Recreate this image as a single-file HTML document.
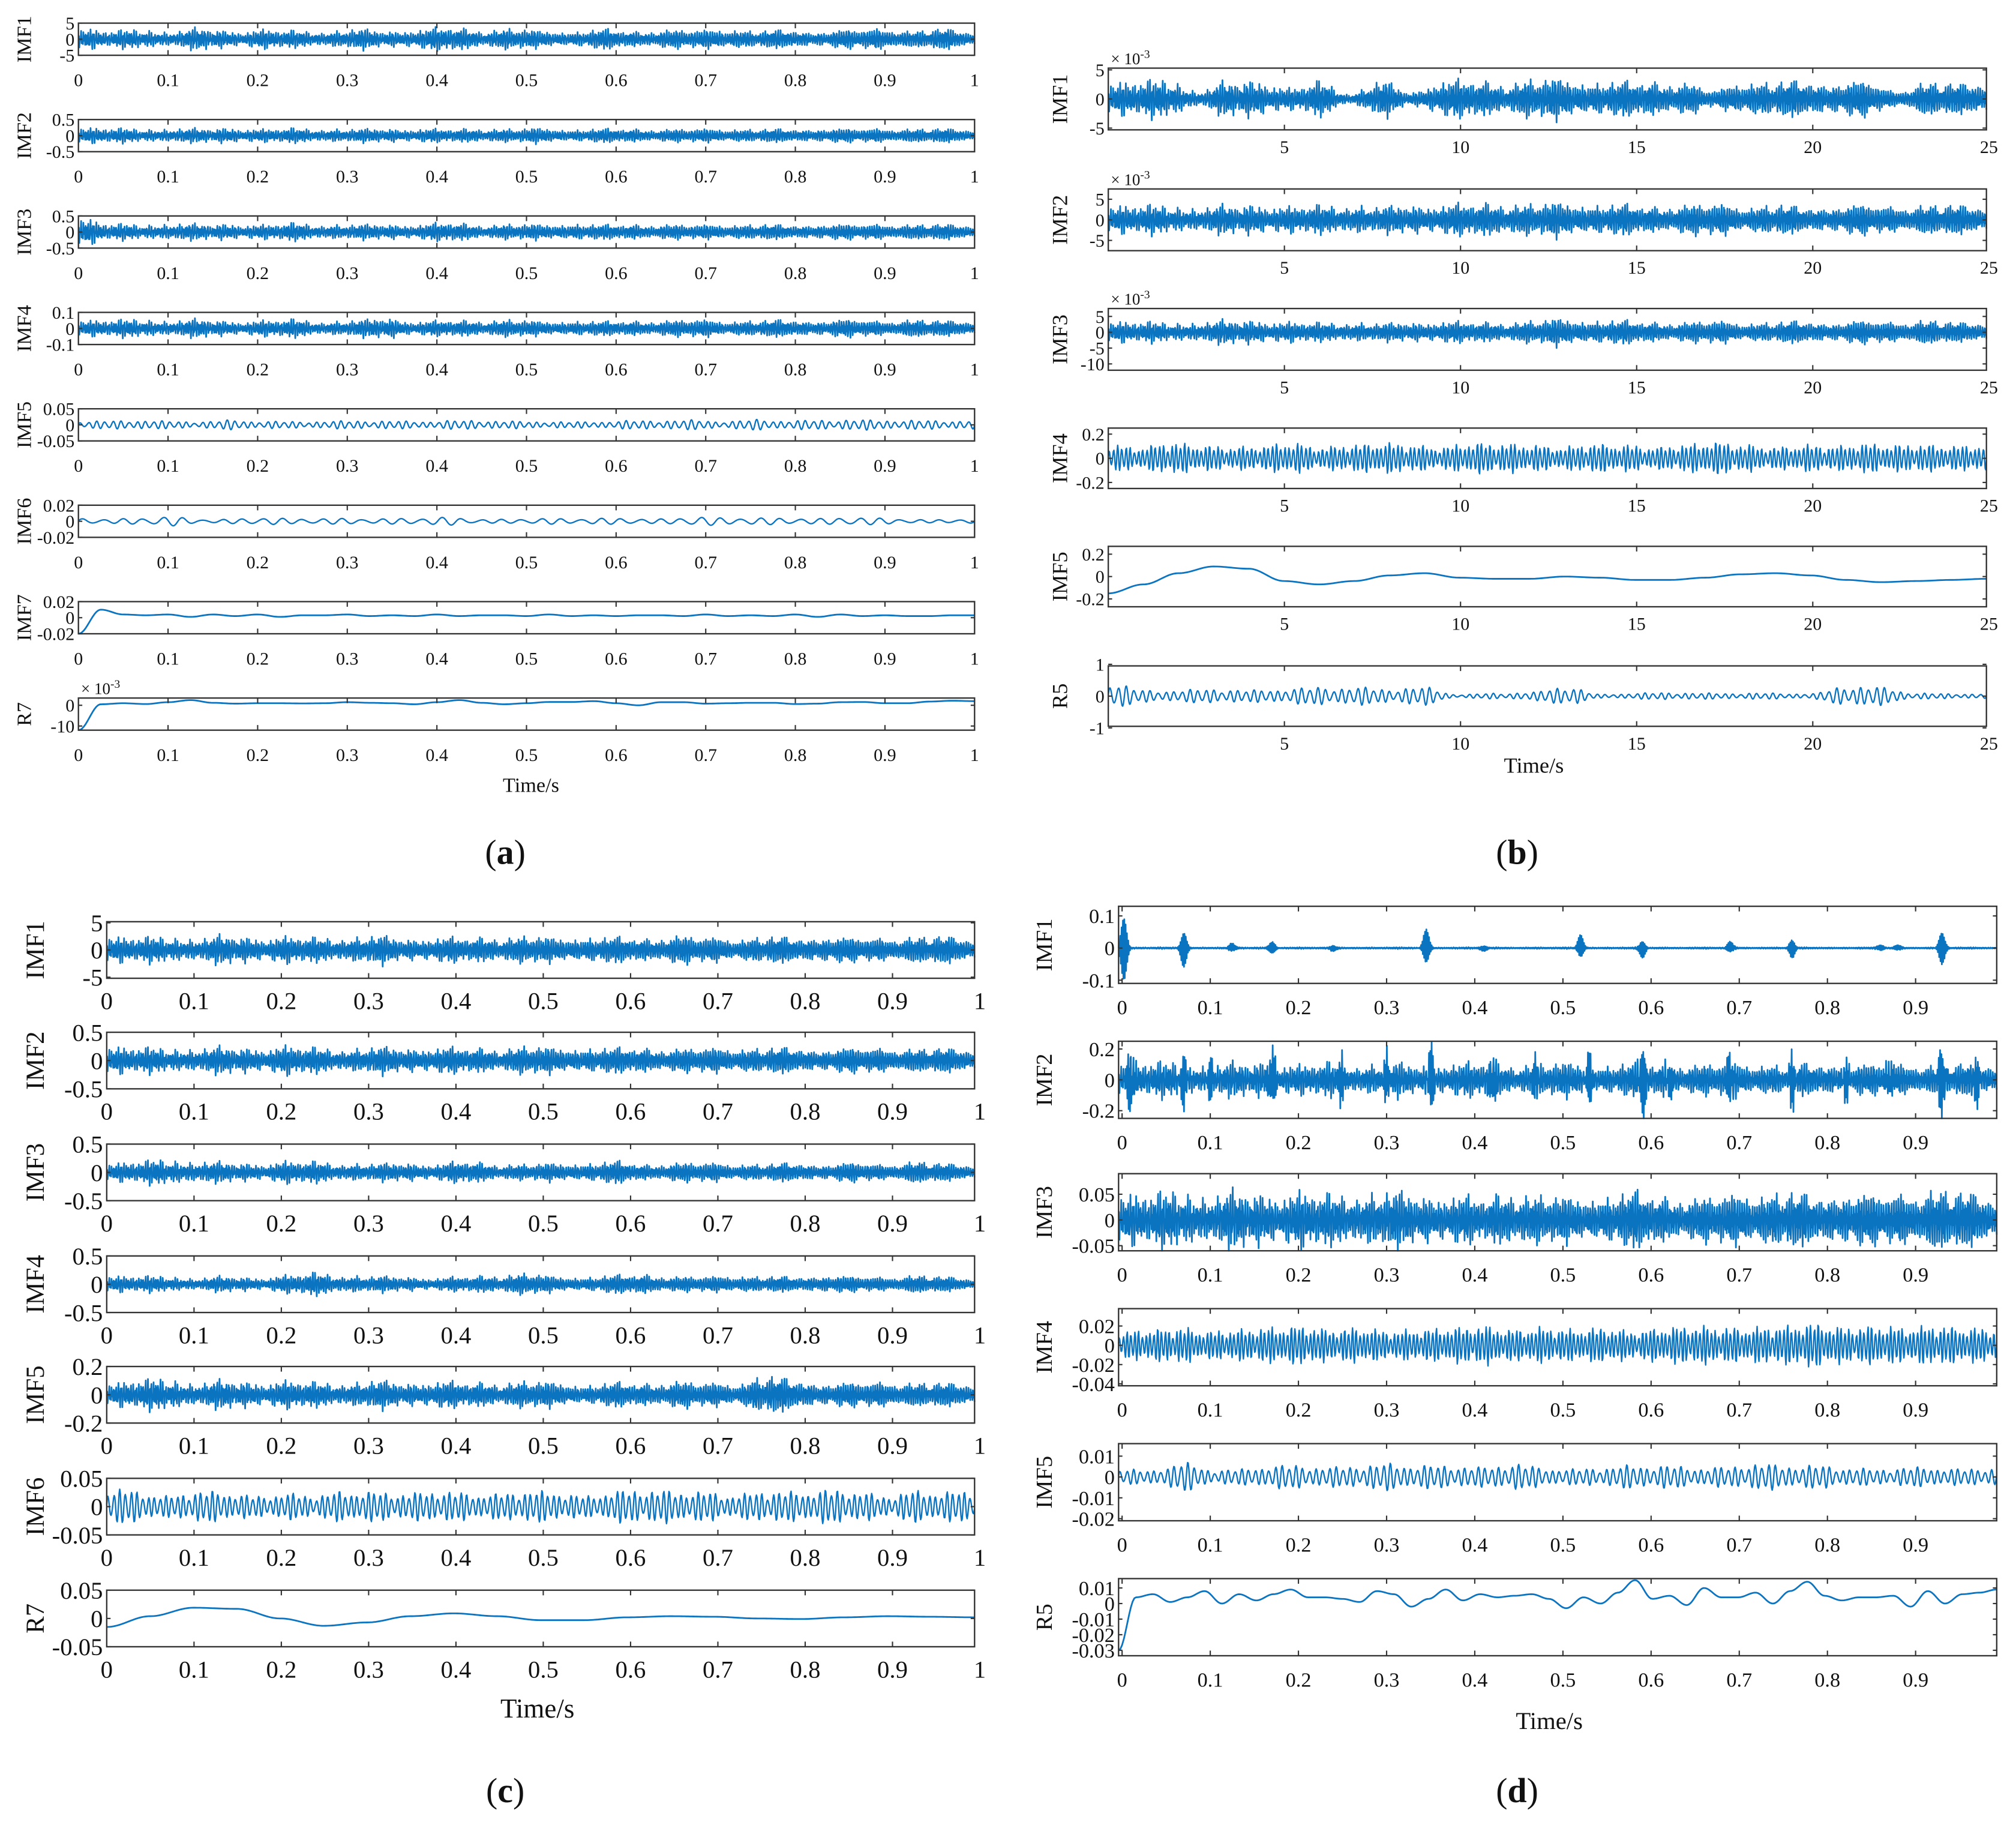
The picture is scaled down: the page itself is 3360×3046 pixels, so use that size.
<!DOCTYPE html>
<html><head><meta charset="utf-8">
<style>
html,body{margin:0;padding:0;background:#fff;}
svg{display:block;}
text{font-family:"Liberation Serif",serif;fill:#111;}
</style></head>
<body>
<svg id="fig" xmlns="http://www.w3.org/2000/svg" width="3360" height="3046" viewBox="0 0 1568 1422" preserveAspectRatio="none"></svg>
<script>
// ---------- data ----------
const xTicksUnit = [0,0.1,0.2,0.3,0.4,0.5,0.6,0.7,0.8,0.9,1];
const xTicksUnitD = [0,0.1,0.2,0.3,0.4,0.5,0.6,0.7,0.8,0.9];
const xTicksB = [5,10,15,20,25];

// panel a
const a_imf1_env = [3,2,2.4,2,2.7,2,2.4,2.1,2,2.5,2.1,2.5,3,2.3,2.7,2.1,2,2.5,2.1,2.4,2.3,2.7,2.1,2.4,2,2.4,2.9,2.1,2.7,2.1];
const a_imf2_env = [0.22,0.18,0.16,0.18,0.17,0.19,0.16,0.18,0.17,0.16,0.18,0.17,0.16,0.18,0.17,0.19,0.16,0.17,0.18,0.16,0.17,0.18,0.16,0.17,0.18,0.17,0.19,0.17,0.18,0.17];
const a_imf3_env = [0.4,0.2,0.18,0.22,0.19,0.2,0.18,0.22,0.19,0.18,0.2,0.19,0.24,0.18,0.2,0.19,0.22,0.18,0.2,0.19,0.18,0.2,0.19,0.18,0.2,0.19,0.21,0.19,0.2,0.19];
const a_imf4_env = [0.045,0.04,0.045,0.04,0.045,0.035,0.04,0.045,0.035,0.04,0.055,0.035,0.04,0.04,0.045,0.035,0.04,0.035,0.04,0.04,0.045,0.04,0.04,0.045,0.04,0.045,0.04,0.045,0.04,0.04];
const a_imf5_env = [0.012,0.013,0.016,0.012,0.011,0.016,0.012,0.011,0.012,0.014,0.013,0.012,0.014,0.015,0.012,0.011,0.01,0.012,0.014,0.015,0.016,0.012,0.018,0.014,0.016,0.017,0.016,0.015,0.014,0.015];
const a_imf6_env = [0.006,0.003,0.004,0.006,0.003,0.004,0.005,0.003,0.004,0.005,0.004,0.004,0.005,0.003,0.004,0.004,0.003,0.004,0.005,0.004,0.006,0.004,0.005,0.006,0.004,0.005,0.004,0.003,0.003,0.003];
const a_imf7_vals = [-0.02,0.01,0.004,0.003,0.004,0.001,0.004,0.002,0.004,0.001,0.003,0.003,0.004,0.002,0.003,0.002,0.004,0.002,0.003,0.003,0.002,0.004,0.002,0.003,0.002,0.003,0.003,0.002,0.004,0.002,0.003,0.002,0.004,0.001,0.004,0.002,0.003,0.002,0.002,0.003,0.003];
const a_r7_vals = [-12,0.5,1,0.6,1.5,2.5,1.2,0.8,1,1,0.9,1,1.5,1.2,1,0.5,1.5,2.5,1.2,0.5,1,1.6,1.6,2,1,0,1.5,1.5,0.8,1,1.2,1.2,0.6,0.8,1.5,1.6,1,1,1.8,2.2,2];

// panel b
const b_imf1_env = [2.5,2.4,2.6,1.2,2.4,2.6,1.5,2.4,0.8,2.5,1.0,2.6,2.6,2.2,2.8,2.8,2.5,2.4,2.6,2.3,1.2,2.6,2.4,2.6,2.4,2.5,1.2,2.4,2.2,2.6];
const b_imf2_env = [3,2.8,2.7,2.5,2.8,3,2.6,2.8,3,2.5,3,3,3.2,3.3,3.2,3.4,3.2,3,2.8,3,3.2,2.8,3,2.6,2.8,3,2.8,3,3,3];
const b_imf3_env = [3,2.6,2.4,2.6,3,3,2.6,2.4,2.6,2.2,2.6,2.8,2.6,2.5,3,3.5,3.2,3,2.8,2.6,3,2.6,2.6,3,2.6,3,2.8,3.2,2.6,2.8];
const b_imf4_env = [0.12,0.1,0.14,0.12,0.1,0.11,0.14,0.1,0.12,0.14,0.12,0.1,0.14,0.13,0.12,0.1,0.13,0.12,0.1,0.12,0.15,0.12,0.1,0.12,0.11,0.13,0.12,0.12,0.11,0.12];
const b_imf5_vals = [-0.15,-0.07,0.03,0.09,0.07,-0.04,-0.07,-0.04,0.01,0.03,-0.01,-0.02,-0.02,0.0,-0.01,-0.03,-0.03,-0.01,0.02,0.03,0.01,-0.03,-0.05,-0.04,-0.03,-0.02];
const b_r5_env = [0.5,0.2,0.2,0.25,0.2,0.25,0.3,0.3,0.25,0.3,0.05,0.1,0.12,0.35,0.06,0.1,0.12,0.1,0.1,0.1,0.08,0.35,0.3,0.1,0.08,0.08];

// panel c
const c_imf1_env = [2.2,1.8,1.9,1.8,2.1,1.8,2,1.8,1.9,2.1,1.7,1.9,1.8,1.9,2.1,1.8,2,1.9,1.8,2.2,1.9,1.8,2,1.9,2.1,1.8,1.9,2,2.1,1.9];
const c_imf2_env = [0.22,0.18,0.17,0.18,0.19,0.17,0.21,0.18,0.17,0.19,0.18,0.19,0.18,0.17,0.21,0.18,0.19,0.18,0.19,0.17,0.18,0.19,0.18,0.19,0.17,0.18,0.19,0.17,0.18,0.18];
const c_imf3_env = [0.14,0.15,0.18,0.16,0.14,0.12,0.16,0.15,0.13,0.12,0.14,0.12,0.16,0.12,0.12,0.13,0.14,0.16,0.12,0.14,0.14,0.13,0.12,0.14,0.12,0.14,0.12,0.16,0.13,0.12];
const c_imf4_env = [0.13,0.11,0.11,0.09,0.11,0.09,0.13,0.16,0.13,0.11,0.11,0.09,0.11,0.13,0.16,0.11,0.11,0.13,0.15,0.11,0.11,0.13,0.11,0.11,0.13,0.11,0.11,0.13,0.11,0.09];
const c_imf5_env = [0.07,0.08,0.09,0.07,0.08,0.07,0.08,0.07,0.07,0.08,0.07,0.08,0.07,0.07,0.08,0.07,0.06,0.07,0.07,0.08,0.07,0.07,0.11,0.09,0.07,0.07,0.08,0.07,0.07,0.07];
const c_imf6_env = [0.035,0.03,0.02,0.03,0.028,0.02,0.025,0.022,0.03,0.028,0.025,0.03,0.026,0.024,0.03,0.028,0.02,0.03,0.032,0.03,0.028,0.022,0.03,0.028,0.032,0.03,0.02,0.03,0.028,0.03];
const c_r7_vals = [-0.015,0.004,0.019,0.017,0.0,-0.013,-0.007,0.004,0.009,0.004,-0.003,-0.003,0.002,0.004,0.003,0.0,-0.001,0.002,0.004,0.003,0.002];

// panel d
const d_imf1_env = [0.002,0.002,0.002,0.002,0.002,0.002,0.002,0.002,0.002,0.002];
const d_imf1_spikeT = [0.002,0.07,0.125,0.17,0.24,0.345,0.41,0.52,0.59,0.69,0.76,0.86,0.88,0.93];
const d_imf1_spikeA = [0.11,0.06,0.015,0.02,0.01,0.06,0.01,0.04,0.03,0.02,0.03,0.01,0.01,0.055];
const d_imf2_env = [0.1,0.09,0.09,0.08,0.09,0.09,0.08,0.09,0.08,0.09,0.08,0.09,0.09,0.08,0.09,0.09,0.08,0.09,0.09,0.08,0.09,0.09,0.08,0.09,0.09,0.08,0.09,0.08,0.09,0.09];
const d_imf2_spikeT = [0.01,0.07,0.1,0.17,0.25,0.3,0.35,0.42,0.47,0.53,0.59,0.62,0.69,0.76,0.82,0.87,0.93,0.97];
const d_imf2_spikeA = [0.2,0.15,0.12,0.2,0.14,0.12,0.2,0.16,0.12,0.15,0.22,0.12,0.15,0.14,0.12,0.12,0.22,0.12];
const d_imf3_env = [0.045,0.04,0.045,0.04,0.045,0.04,0.045,0.04,0.043,0.045,0.04,0.04,0.035,0.045,0.04,0.035,0.04,0.045,0.04,0.035,0.04,0.045,0.045,0.04,0.045,0.04,0.045,0.05,0.045,0.04];
const d_imf4_env = [0.015,0.018,0.02,0.016,0.018,0.02,0.022,0.018,0.02,0.016,0.018,0.02,0.022,0.018,0.02,0.018,0.02,0.016,0.02,0.022,0.02,0.02,0.022,0.025,0.02,0.022,0.02,0.022,0.02,0.018];
const d_imf5_env = [0.005,0.003,0.008,0.004,0.004,0.006,0.006,0.005,0.006,0.007,0.006,0.006,0.005,0.007,0.005,0.004,0.005,0.006,0.006,0.005,0.005,0.007,0.006,0.006,0.005,0.004,0.005,0.005,0.004,0.005];
const d_r5_vals = [-0.03,0.004,0.006,0.001,0.004,0.008,0.0,0.006,0.002,0.006,0.009,0.004,0.004,0.003,0.001,0.008,0.006,-0.002,0.003,0.009,0.002,0.006,0.004,0.005,0.006,0.003,-0.003,0.004,0.0,0.007,0.015,0.003,0.005,-0.001,0.01,0.004,0.004,0.007,0.0,0.008,0.014,0.005,0.002,0.004,0.004,0.005,-0.002,0.008,0.0,0.006,0.007,0.009];

// ---------- drawing ----------
const NS = 'http://www.w3.org/2000/svg';
const svg = document.getElementById('fig');
const BLUE = '#0b74c0';
function mk(tag, attrs, parent){ const e=document.createElementNS(NS,tag); for(const k in attrs) e.setAttribute(k,attrs[k]); (parent||svg).appendChild(e); return e; }
function interp(arr, f){ const p=f*(arr.length-1); const i=Math.min(arr.length-2,Math.max(0,Math.floor(p))); const r=p-i; const w=(1-Math.cos(Math.PI*r))/2; return arr[i]*(1-w)+arr[i+1]*w; }

function drawPanel(P){
  const g = mk('g',{});
  
  
  const sx = v => P.x0 + (v - P.dmin)/(P.dmax-P.dmin)*(P.x1-P.x0);
  P.rows.forEach((R, ri)=>{
    const rg = mk('g',{}, g);
    
    
    const top=R.y, bot=R.y+R.h;
    const sy = v => bot - (v - R.ymin)/(R.ymax-R.ymin)*R.h;
    const N = R.kind==='smooth' ? 500 : (R.kind==='osc' ? 1400 : 2000);
    let pts=[];
    for(let i=0;i<=N;i++){
      const f=i/N, t=P.dmin+f*(P.dmax-P.dmin);
      let v;
      if(R.kind==='smooth'){ v=interp(R.vals,f); }
      else if(R.kind==='osc'){
        const e=interp(R.env,f);
        v=e*(0.8*Math.sin(2*Math.PI*R.cycles*f)+0.2*Math.sin(2*Math.PI*R.cycles*1.37*f+1.1))*(0.6+0.4*Math.abs(Math.sin(2*Math.PI*R.cycles*0.07*f)));
      } else {
        const e=interp(R.env,f);
        const c=0.5*Math.sin(i*2.399)+0.3*Math.sin(i*5.173+1)+0.2*Math.sin(i*0.913+2);
        const mod=0.55+0.45*Math.pow(Math.abs(Math.sin(i*0.0173)*Math.sin(i*0.0411+0.5)),0.6);
        v=e*c*mod*1.6;
        if(R.spikeT){
          for(let k=0;k<R.spikeT.length;k++){
            const d=(t-R.spikeT[k])/((P.dmax-P.dmin)*0.003);
            if(Math.abs(d)<3) v+=R.spikeA[k]*Math.exp(-d*d/2)*Math.sin(i*2.1);
          }
        }
      }
      v=Math.max(R.ymin,Math.min(R.ymax,v));
      pts.push(sx(t).toFixed(2)+','+sy(v).toFixed(2));
    }
    const sw = R.kind==='smooth'?1.3:(R.kind==='osc'?1.1:1.3);
    const line = mk('polyline',{points:pts.join(' '),fill:'none',stroke:BLUE,'stroke-width':sw,'stroke-linejoin':'round'}, rg);
    
    
    const box = mk('rect',{x:P.x0,y:top,width:P.x1-P.x0,height:R.h,fill:'none',stroke:'#333','stroke-width':1.1}, rg);
    
    
    P.xticks.forEach(tv=>{
      const X=sx(tv);
      if(X>P.x0+1 && X<P.x1-1){
        mk('line',{x1:X,y1:top,x2:X,y2:top+4,stroke:'#333','stroke-width':1}, rg);
        mk('line',{x1:X,y1:bot,x2:X,y2:bot-4,stroke:'#333','stroke-width':1}, rg);
      }
      const tl = mk('text',{x:X,y:bot+P.xlabOff,'font-size':P.fs,'text-anchor':'middle'}, rg);
      tl.textContent = String(tv);
      
      
    });
    R.yticks.forEach(yv=>{
      const Y=sy(yv);
      mk('line',{x1:P.x0,y1:Y,x2:P.x0+3,y2:Y,stroke:'#333','stroke-width':1}, rg);
      mk('line',{x1:P.x1,y1:Y,x2:P.x1-3,y2:Y,stroke:'#333','stroke-width':1}, rg);
      const yl = mk('text',{x:P.x0-3,y:Y+P.fs*0.35,'font-size':P.fs,'text-anchor':'end'}, rg);
      yl.textContent = String(yv);
      
      
    });
    const cy=top+R.h/2;
    const lab = mk('text',{x:P.ylabX,y:cy,'font-size':P.lfs,'text-anchor':'middle',transform:'rotate(-90 '+P.ylabX+' '+cy+')'}, rg);
    lab.textContent = R.label;
    
    
    if(R.exp){
      const ex = mk('text',{x:P.x0+2,y:top-3,'font-size':P.fs*0.9}, rg);
      ex.innerHTML = '× 10<tspan dy="-5" font-size="'+(P.fs*0.65)+'">-3</tspan>';
      
      
    }
  });
  const xt = mk('text',{x:P.timeX,y:P.timeY,'font-size':P.tfs,'text-anchor':'middle'}, g);
  xt.textContent='Time/s';
  
  
  const cap = mk('text',{x:P.capX,y:P.capY,'font-size':27,'text-anchor':'middle'}, g);
  cap.innerHTML='(<tspan font-weight="bold">'+P.id.slice(-1)+'</tspan>)';
  
  
}

const ya=[18,93,168,243,318,393,468,543];
drawPanel({id:'panel-a',name:'panel-a',x0:61,x1:758,dmin:0,dmax:1,xticks:xTicksUnit,fs:14,lfs:16,ylabX:24,xlabOff:24,timeX:413,timeY:616,tfs:16,capX:393,capY:672,
 rows:[
  {label:'IMF1',y:ya[0],h:25,ymin:-5,ymax:5,yticks:[5,0,-5],kind:'noise',env:a_imf1_env},
  {label:'IMF2',y:ya[1],h:25,ymin:-0.5,ymax:0.5,yticks:[0.5,0,-0.5],kind:'noise',env:a_imf2_env},
  {label:'IMF3',y:ya[2],h:25,ymin:-0.5,ymax:0.5,yticks:[0.5,0,-0.5],kind:'noise',env:a_imf3_env},
  {label:'IMF4',y:ya[3],h:25,ymin:-0.1,ymax:0.1,yticks:[0.1,0,-0.1],kind:'noise',env:a_imf4_env},
  {label:'IMF5',y:ya[4],h:25,ymin:-0.05,ymax:0.05,yticks:[0.05,0,-0.05],kind:'osc',cycles:110,env:a_imf5_env},
  {label:'IMF6',y:ya[5],h:25,ymin:-0.02,ymax:0.02,yticks:[0.02,0,-0.02],kind:'osc',cycles:45,env:a_imf6_env},
  {label:'IMF7',y:ya[6],h:25,ymin:-0.02,ymax:0.02,yticks:[0.02,0,-0.02],kind:'smooth',vals:a_imf7_vals},
  {label:'R7',y:ya[7],h:25,ymin:-12,ymax:3.5,yticks:[0,-10],kind:'smooth',vals:a_r7_vals,exp:true}
 ]});

drawPanel({id:'panel-b',name:'panel-b',x0:862,x1:1545,dmin:0,dmax:24.93,xticks:xTicksB,fs:14,lfs:17,ylabX:830,xlabOff:18,timeX:1193,timeY:601,tfs:17,capX:1180,capY:672,
 rows:[
  {label:'IMF1',y:53,h:48,ymin:-5.3,ymax:5.3,yticks:[5,0,-5],kind:'noise',env:b_imf1_env,exp:true},
  {label:'IMF2',y:147,h:48,ymin:-7.5,ymax:7.5,yticks:[5,0,-5],kind:'noise',env:b_imf2_env,exp:true},
  {label:'IMF3',y:240,h:48,ymin:-12,ymax:7.5,yticks:[5,0,-5,-10],kind:'noise',env:b_imf3_env,exp:true},
  {label:'IMF4',y:333,h:47,ymin:-0.25,ymax:0.25,yticks:[0.2,0,-0.2],kind:'osc',cycles:210,env:b_imf4_env},
  {label:'IMF5',y:425,h:47,ymin:-0.27,ymax:0.27,yticks:[0.2,0,-0.2],kind:'smooth',vals:b_imf5_vals},
  {label:'R5',y:518,h:47,ymin:-0.95,ymax:0.95,yticks:[1,0,-1],kind:'osc',cycles:110,env:b_r5_env}
 ]});

const yc=[717,803,890,977,1063,1150,1237];
drawPanel({id:'panel-c',name:'panel-c',x0:83,x1:758,dmin:0,dmax:0.994,xticks:xTicksUnit,fs:19,lfs:20,ylabX:34,xlabOff:24,timeX:418,timeY:1336,tfs:21,capX:393,capY:1402,
 rows:[
  {label:'IMF1',y:yc[0],h:44,ymin:-5.2,ymax:5.2,yticks:[5,0,-5],kind:'noise',env:c_imf1_env},
  {label:'IMF2',y:yc[1],h:44,ymin:-0.5,ymax:0.5,yticks:[0.5,0,-0.5],kind:'noise',env:c_imf2_env},
  {label:'IMF3',y:yc[2],h:44,ymin:-0.5,ymax:0.5,yticks:[0.5,0,-0.5],kind:'noise',env:c_imf3_env},
  {label:'IMF4',y:yc[3],h:44,ymin:-0.5,ymax:0.5,yticks:[0.5,0,-0.5],kind:'noise',env:c_imf4_env},
  {label:'IMF5',y:yc[4],h:44,ymin:-0.2,ymax:0.2,yticks:[0.2,0,-0.2],kind:'noise',env:c_imf5_env},
  {label:'IMF6',y:yc[5],h:44,ymin:-0.05,ymax:0.05,yticks:[0.05,0,-0.05],kind:'osc',cycles:150,env:c_imf6_env},
  {label:'R7',y:yc[6],h:44,ymin:-0.05,ymax:0.05,yticks:[0.05,0,-0.05],kind:'smooth',vals:c_r7_vals}
 ]});

drawPanel({id:'panel-d',name:'panel-d',x0:870,x1:1553,dmin:-0.004,dmax:0.992,xticks:xTicksUnitD,fs:16,lfs:18,ylabX:818,xlabOff:24,timeX:1205,timeY:1345,tfs:19,capX:1180,capY:1402,
 rows:[
  {label:'IMF1',y:705,h:60,ymin:-0.11,ymax:0.13,yticks:[0.1,0,-0.1],kind:'noise',env:d_imf1_env,spikeT:d_imf1_spikeT,spikeA:d_imf1_spikeA},
  {label:'IMF2',y:810,h:60,ymin:-0.25,ymax:0.25,yticks:[0.2,0,-0.2],kind:'noise',env:d_imf2_env,spikeT:d_imf2_spikeT,spikeA:d_imf2_spikeA},
  {label:'IMF3',y:913,h:60,ymin:-0.06,ymax:0.09,yticks:[0.05,0,-0.05],kind:'noise',env:d_imf3_env},
  {label:'IMF4',y:1018,h:60,ymin:-0.042,ymax:0.038,yticks:[0.02,0,-0.02,-0.04],kind:'osc',cycles:230,env:d_imf4_env},
  {label:'IMF5',y:1123,h:60,ymin:-0.021,ymax:0.016,yticks:[0.01,0,-0.01,-0.02],kind:'osc',cycles:130,env:d_imf5_env},
  {label:'R5',y:1228,h:60,ymin:-0.0335,ymax:0.016,yticks:[0.01,0,-0.01,-0.02,-0.03],kind:'smooth',vals:d_r5_vals}
 ]});
</script>
</body></html>
